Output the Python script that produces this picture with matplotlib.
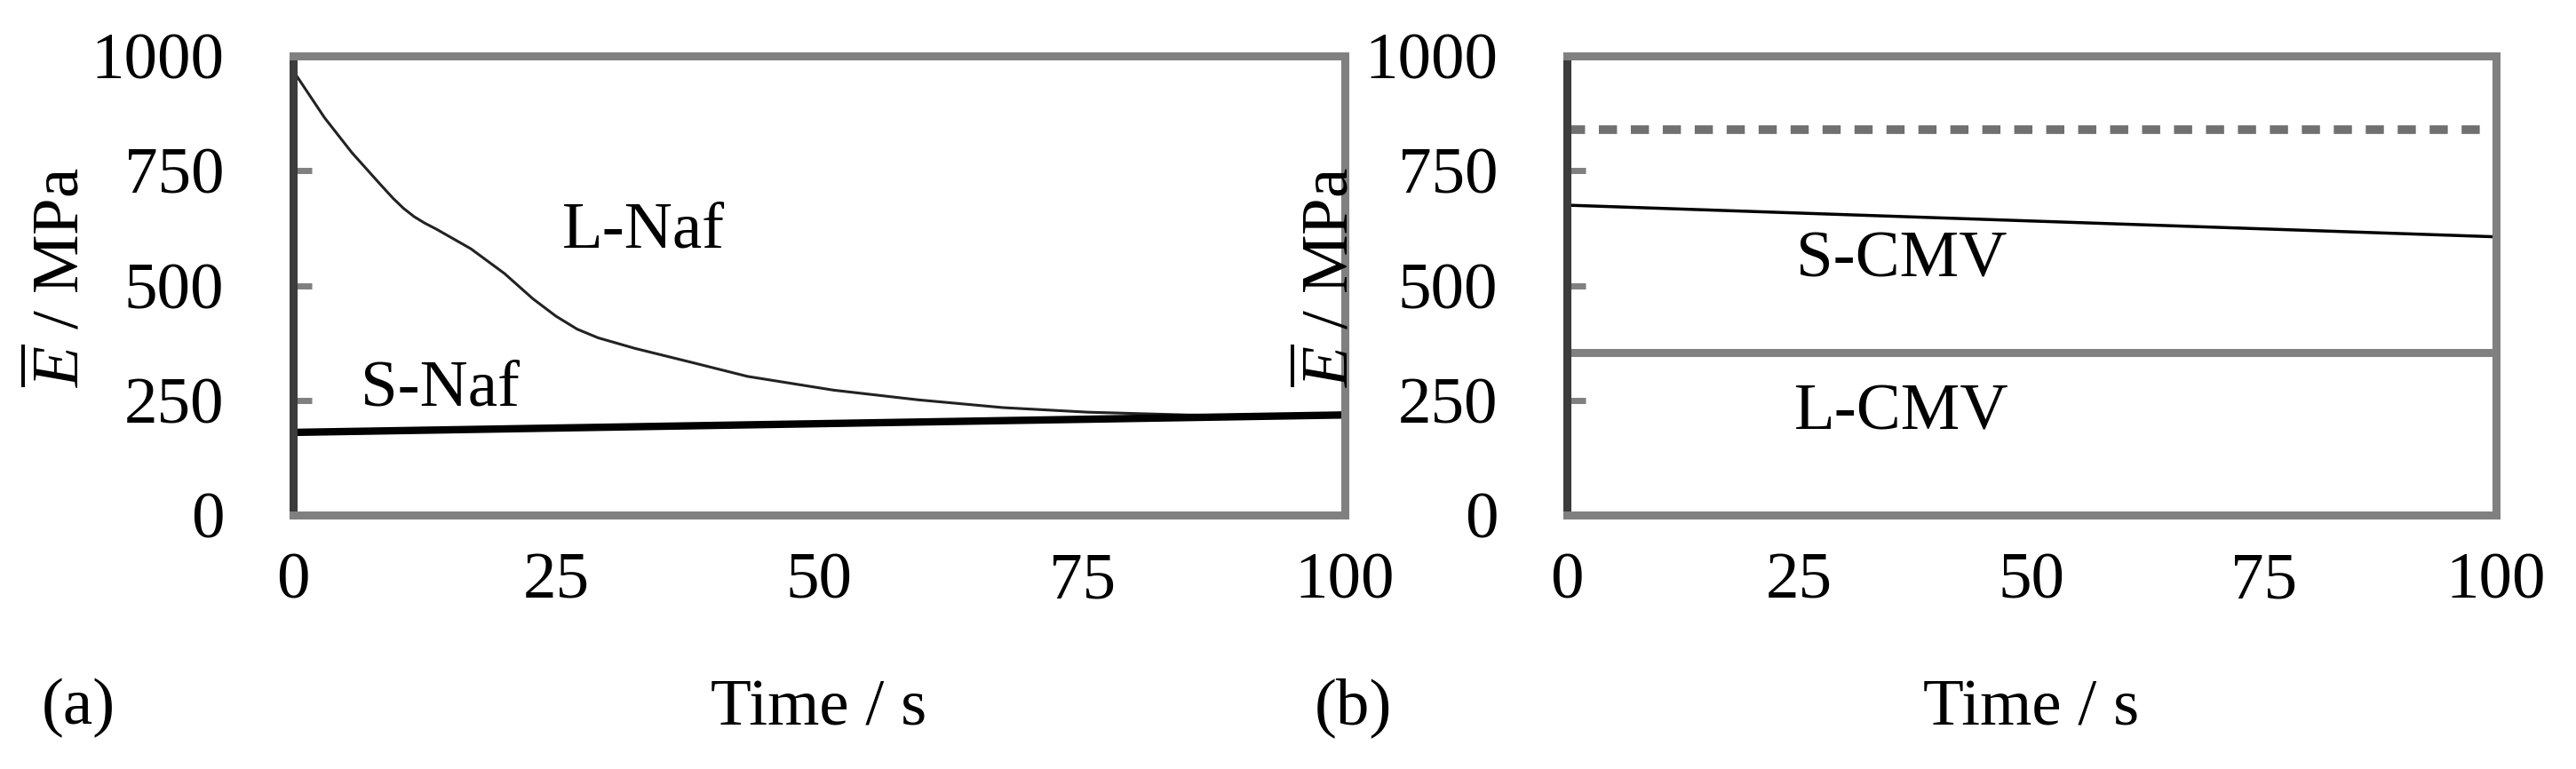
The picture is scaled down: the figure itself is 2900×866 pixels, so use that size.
import matplotlib
matplotlib.use("Agg")
import matplotlib.pyplot as plt

# data
time_range = [0, 100]

t_lnaf = [0, 3, 5.6, 8.3, 9.5, 10.5, 11.5, 12.5, 13.6, 16.9, 20.1, 22.8,
          25, 27, 29, 32.5, 37.8, 43.2, 51.4, 59.4, 67.5, 75.6, 85, 92, 100]
e_lnaf = [968, 865, 789, 720, 690, 668, 650, 636, 623, 580, 526, 471,
          433, 405, 386, 363, 333, 302, 272, 251, 234, 224, 218, 216, 217]

e_snaf = [180, 218]
e_scmv = [675, 606]
e_lcmv = [353, 353]
e_ref = [839, 839]

x_ticks = [0, 25, 50, 75, 100]
y_ticks = [0, 250, 500, 750, 1000]

plt.rcParams["font.family"] = ["Liberation Serif", "DejaVu Serif"]
plt.rcParams["mathtext.fontset"] = "custom"
plt.rcParams["mathtext.rm"] = "Liberation Serif"
plt.rcParams["mathtext.it"] = "Liberation Serif:italic"
plt.rcParams["font.size"] = 54

W, H = 2900, 866
fig = plt.figure(figsize=(W / 100, H / 100), dpi=100)

ax_a = fig.add_axes([330 / W, 1 - 580 / H, (1514 - 330) / W, 517 / H])
ax_b = fig.add_axes([1764 / W, 1 - 580 / H, (2810 - 1764) / W, 517 / H])


def style_axes(ax, ylabel_x):
    ax.set_xlim(0, 100)
    ax.set_ylim(0, 1000)
    ax.set_xticks(x_ticks)
    ax.set_yticks(y_ticks)
    for side in ["top", "bottom", "right"]:
        ax.spines[side].set_color("#808080")
        ax.spines[side].set_linewidth(6.5)
    ax.spines["left"].set_color("#3c3c3c")
    ax.spines["left"].set_linewidth(6.5)
    ax.tick_params(axis="x", length=0, pad=30)
    ax.tick_params(axis="y", direction="in", length=15, width=5,
                   color="#808080", pad=56)
    ax.set_xlabel("Time / s")
    ax.xaxis.label.set_va("center")
    ax.xaxis.set_label_coords(0.5, -0.4236)
    ax.set_ylabel(r"$\overline{E}$ / MPa")
    ax.yaxis.label.set_va("center")
    ax.yaxis.set_label_coords(ylabel_x, 1 - 312 / H, transform=fig.transFigure)


# (a) Nafion
ax_a.plot(t_lnaf, e_lnaf, color="#222222", lw=2.2)
ax_a.plot(time_range, e_snaf, color="black", lw=6)
ax_a.text(33.3, 618, "L-Naf", ha="center", va="center")
ax_a.text(14, 273, "S-Naf", ha="center", va="center")
style_axes(ax_a, 69 / W)

# (b) CMV
ax_b.plot(time_range, e_ref, color="#707070", lw=7, linestyle=(0, (2.1, 1.6)))
ax_b.plot(time_range, e_scmv, color="black", lw=2.5)
ax_b.plot(time_range, e_lcmv, color="#808080", lw=6.5)
ax_b.text(36, 554, "S-CMV", ha="center", va="center")
ax_b.text(36, 221, "L-CMV", ha="center", va="center")
style_axes(ax_b, 1498 / W)

fig.text(88 / W, 1 - 797 / H, "(a)", ha="center", va="center")
fig.text(1523 / W, 1 - 797 / H, "(b)", ha="center", va="center")

fig.savefig("out.png", dpi=100, facecolor="white")
